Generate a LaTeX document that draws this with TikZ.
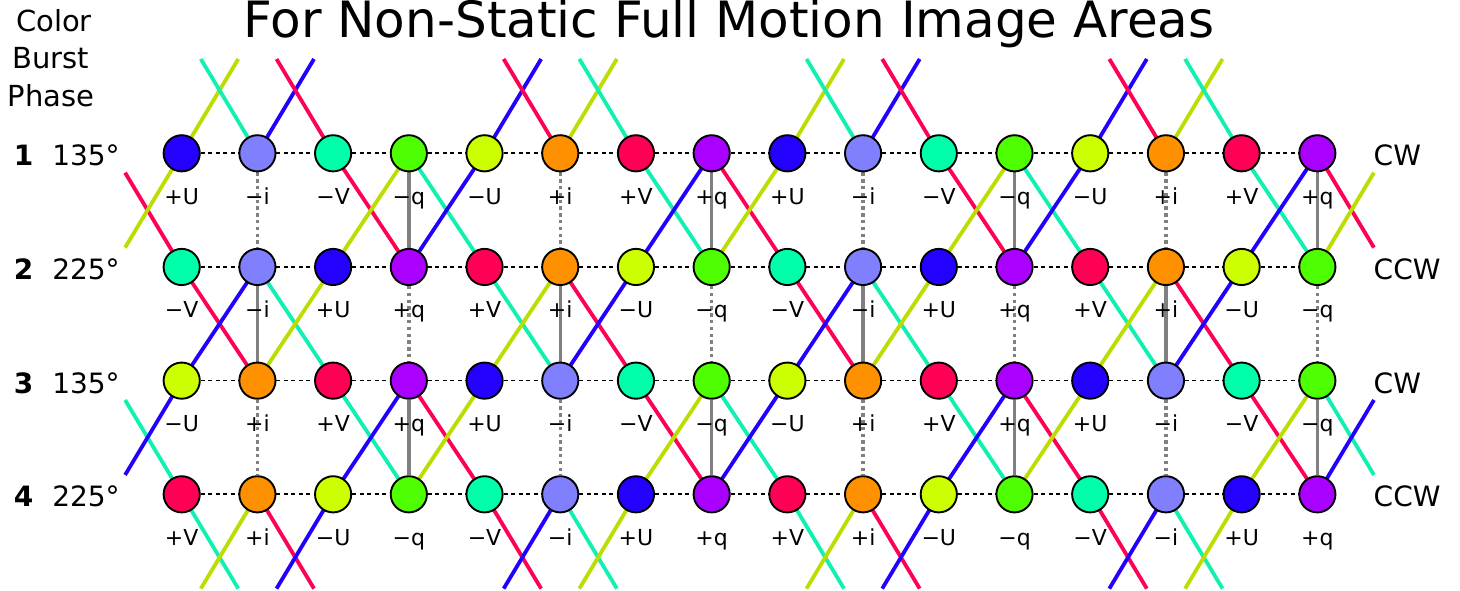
\documentclass[tikz,border=0pt]{standalone}
\usepackage{fontspec}
\setmainfont{DejaVu Sans}
\usetikzlibrary{calc}
\pgfdeclarelayer{bg}
\pgfsetlayers{bg,main}
\definecolor{PU}{HTML}{2400FF}
\definecolor{MI}{HTML}{8080FF}
\definecolor{MV}{HTML}{00FFAA}
\definecolor{MQ}{HTML}{4DFF00}
\definecolor{MU}{HTML}{CCFF00}
\definecolor{PI}{HTML}{FF9100}
\definecolor{PV}{HTML}{FF0055}
\definecolor{PQ}{HTML}{AA00FF}
\definecolor{lblue}{HTML}{2200FF}
\definecolor{lteal}{HTML}{10F0B0}
\definecolor{lyg}{HTML}{BBDD00}
\definecolor{lred}{HTML}{FF0055}
\definecolor{lgray}{HTML}{808080}
\def\labPU{+U}
\def\labMI{−i}
\def\labMV{−V}
\def\labMQ{−q}
\def\labMU{−U}
\def\labPI{+i}
\def\labPV{+V}
\def\labPQ{+q}
\begin{document}
\begin{tikzpicture}[x=1pt,y=-1pt,
  dot/.style={circle, draw=black, line width=1.9pt, minimum size=36.2pt, inner sep=0pt},
  lab/.style={anchor=base, font=\fontsize{22}{26}\selectfont, inner sep=0pt},
  cline/.style={line width=3.8pt},
  gsol/.style={draw=lgray, line width=3.4pt},
  gdot/.style={draw=lgray, line width=3.4pt, dash pattern=on 3.4pt off 3.4pt},
  hdash/.style={draw=black, line width=1.7pt, dash pattern=on 4pt off 3.5pt},
  big/.style={anchor=base, inner sep=0pt, font=\fontsize{28}{32}\selectfont}]
\useasboundingbox (0,0) rectangle (1460,591);
% circles and labels
\foreach \row [count=\ri] in {
  {PU,MI,MV,MQ,MU,PI,PV,PQ,PU,MI,MV,MQ,MU,PI,PV,PQ},
  {MV,MI,PU,PQ,PV,PI,MU,MQ,MV,MI,PU,PQ,PV,PI,MU,MQ},
  {MU,PI,PV,PQ,PU,MI,MV,MQ,MU,PI,PV,PQ,PU,MI,MV,MQ},
  {PV,PI,MU,MQ,MV,MI,PU,PQ,PV,PI,MU,MQ,MV,MI,PU,PQ}}{
  \foreach \k [count=\ci] in \row {
    \node[dot, fill=\k] (n-\ri-\ci) at ({181.7+(\ci-1)*75.71},{153.3+(\ri-1)*113.67}) {};
    \node[lab] (l-\ri-\ci) at ({181.7+(\ci-1)*75.71},{153.3+(\ri-1)*113.67+51}) {\csname lab\k\endcsname};
  }
}
\begin{pgfonlayer}{bg}
% inner diagonal segments
\foreach \co/\a/\b/\cc/\d in {
  lred/1/3/2/4, lyg/1/4/2/3, lteal/1/4/2/5, lblue/1/5/2/4,
  lteal/1/7/2/8, lblue/1/8/2/7, lred/1/8/2/9, lyg/1/9/2/8,
  lred/1/11/2/12, lyg/1/12/2/11, lteal/1/12/2/13, lblue/1/13/2/12,
  lteal/1/15/2/16, lblue/1/16/2/15,
  lred/2/1/3/2, lblue/2/2/3/1, lteal/2/2/3/3, lyg/2/3/3/2,
  lteal/2/5/3/6, lyg/2/6/3/5, lred/2/6/3/7, lblue/2/7/3/6,
  lred/2/9/3/10, lblue/2/10/3/9, lteal/2/10/3/11, lyg/2/11/3/10,
  lteal/2/13/3/14, lyg/2/14/3/13, lred/2/14/3/15, lblue/2/15/3/14,
  lteal/3/3/4/4, lblue/3/4/4/3, lred/3/4/4/5, lyg/3/5/4/4,
  lred/3/7/4/8, lyg/3/8/4/7, lteal/3/8/4/9, lblue/3/9/4/8,
  lteal/3/11/4/12, lblue/3/12/4/11, lred/3/12/4/13, lyg/3/13/4/12,
  lred/3/15/4/16, lyg/3/16/4/15}
  \draw[cline, \co] (n-\a-\b.center) -- (n-\cc-\d.center);
% edge segments
\foreach \co/\a/\b/\sx/\sy in {
  lyg/1/1/1/-1, lteal/1/2/-1/-1, lblue/1/2/1/-1, lred/1/3/-1/-1,
  lblue/1/5/1/-1, lred/1/6/-1/-1, lyg/1/6/1/-1, lteal/1/7/-1/-1,
  lyg/1/9/1/-1, lteal/1/10/-1/-1, lblue/1/10/1/-1, lred/1/11/-1/-1,
  lblue/1/13/1/-1, lred/1/14/-1/-1, lyg/1/14/1/-1, lteal/1/15/-1/-1,
  lteal/4/1/1/1, lyg/4/2/-1/1, lred/4/2/1/1, lblue/4/3/-1/1,
  lred/4/5/1/1, lblue/4/6/-1/1, lteal/4/6/1/1, lyg/4/7/-1/1,
  lteal/4/9/1/1, lyg/4/10/-1/1, lred/4/10/1/1, lblue/4/11/-1/1,
  lred/4/13/1/1, lblue/4/14/-1/1, lteal/4/14/1/1, lyg/4/15/-1/1,
  lred/2/1/-1/-1, lyg/1/1/-1/1, lred/1/16/1/1, lyg/2/16/1/-1,
  lteal/4/1/-1/-1, lblue/3/1/-1/1, lteal/3/16/1/1, lblue/4/16/1/-1} {
  \coordinate (e-\a-\b-\sx-\sy) at ($(n-\a-\b.center)+(\sx*56.6,\sy*94.3)$);
  \draw[cline, \co] (n-\a-\b.center) -- (e-\a-\b-\sx-\sy);
}
% gray verticals
\foreach \c in {2,6,10,14} {
  \draw[gdot] (n-1-\c) -- (n-2-\c);
  \draw[gsol] (n-2-\c) -- (n-3-\c);
  \draw[gdot] (n-3-\c) -- (n-4-\c);
}
\foreach \c in {4,8,12,16} {
  \draw[gsol] (n-1-\c) -- (n-2-\c);
  \draw[gdot] (n-2-\c) -- (n-3-\c);
  \draw[gsol] (n-3-\c) -- (n-4-\c);
}
% horizontal dashed
\foreach \r in {1,...,4} {
  \foreach \c [evaluate=\c as \cn using int(\c+1)] in {1,...,15}
    \draw[hdash] (n-\r-\c) -- (n-\r-\cn);
}
\end{pgfonlayer}
% title and side texts
\node[anchor=base, inner sep=0pt, font=\fontsize{50}{60}\selectfont] (title) at (729,38) {For Non-Static Full Motion Image Areas};
\node[anchor=base, inner sep=0pt, font=\fontsize{29}{34}\selectfont] (hc) at (54,32) {Color};
\node[anchor=base, inner sep=0pt, font=\fontsize{29}{34}\selectfont] (hb) at (51,69) {Burst};
\node[anchor=base, inner sep=0pt, font=\fontsize{29}{34}\selectfont] (hp) at (51,107) {Phase};
\foreach \num/\ang/\dir [count=\i] in {1/135°/CW, 2/225°/CCW, 3/135°/CW, 4/225°/CCW} {
  \node[big, font=\fontsize{28}{32}\selectfont\bfseries] (rn-\i) at (23.5,{153.3+(\i-1)*113.67+12.5}) {\num};
  \node[big] (ra-\i) at (86,{153.3+(\i-1)*113.67+12.5}) {\ang};
  \node[big, anchor=base west] (rd-\i) at (1373.5,{153.3+(\i-1)*113.67+12.5}) {\dir};
}
\end{tikzpicture}
\end{document}
